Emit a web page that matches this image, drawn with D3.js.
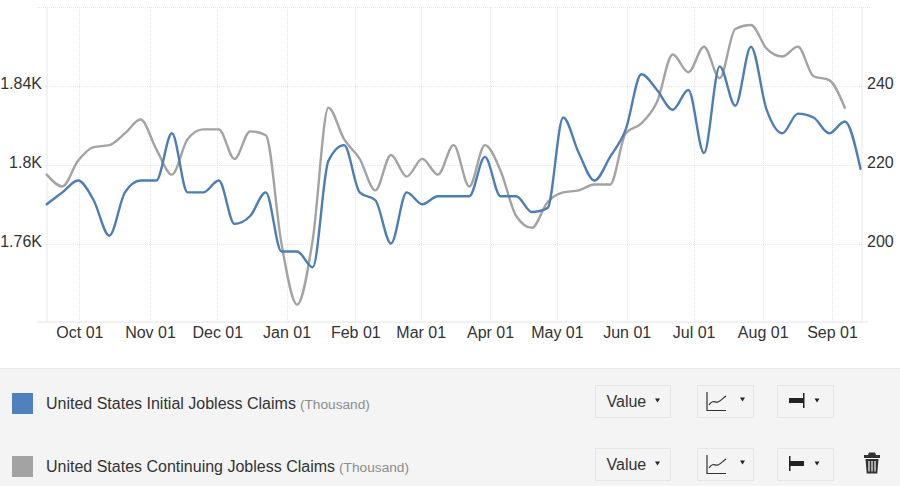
<!DOCTYPE html>
<html>
<head>
<meta charset="utf-8">
<script src="https://cdn.jsdelivr.net/npm/d3@7"></script>
<style>
    html, body { margin: 0; padding: 0; background: #fff; overflow: hidden; }
    svg { display: block; font-family: "Liberation Sans", Arial, sans-serif; }
    .grid line { stroke: #e6e6e6; stroke-width: 1; stroke-dasharray: 1 1; }
    .grid path { display: none; }
    .axis path { display: none; }
    .axis line { display: none; }
    .axis text { font-size: 16px; fill: #333; font-family: "Liberation Sans", Arial, sans-serif; }
    .series { fill: none; stroke-width: 2.4; stroke-linejoin: round; stroke-linecap: round; }
</style>
</head>
<body>
<svg id="chart" width="900" height="486"></svg>
<script>
// weekly readings, oldest first
var initialClaims = [210, 213, 216, 211, 202, 213, 216, 216, 228, 213, 213, 216, 205, 207, 213, 198, 198,
    194, 221, 225, 213, 211, 200, 213, 210, 212, 212, 212, 222, 212, 212, 208, 209, 232, 223, 216,
    222, 229, 243, 239, 234, 239, 223, 245, 235, 250, 234, 228, 233, 232, 228, 231, 219];

var continuingClaims = [1795, 1789, 1802, 1809, 1810, 1816, 1823, 1808, 1795, 1813, 1818, 1818, 1803, 1817, 1815, 1760, 1729,
    1762, 1829, 1813, 1803, 1787, 1805, 1794, 1803, 1795, 1810, 1789, 1810, 1797, 1774, 1768, 1781, 1786, 1787, 1790,
    1790, 1816, 1821, 1832, 1856, 1847, 1860, 1844, 1869, 1871, 1859, 1855, 1860, 1845, 1843, 1829];

// the axis is ordinal, so month labels sit at fractions of a week
var monthLabels = ["Oct 01", "Nov 01", "Dec 01", "Jan 01", "Feb 01", "Mar 01", "Apr 01", "May 01", "Jun 01", "Jul 01", "Aug 01", "Sep 01"];
var monthWeeks = [2.09, 6.6, 10.9, 15.33, 19.72, 23.9, 28.33, 32.6, 37.06, 41.34, 45.75, 50.18];

var leftTicks = [1760, 1800, 1840];
var rightTicks = [200, 220, 240];
var allLeftLines = [1720, 1760, 1800, 1840, 1880];

var legendNames = ["United States Initial Jobless Claims", "United States Continuing Jobless Claims"];
var legendUnit = "(Thousand)";
var legendColors = ["#4f81bd", "#a3a3a3"];

var svg = d3.select("#chart");

var x = d3.scaleLinear().domain([0, 52]).range([46.7, 860.5]);
var yLeft = d3.scaleLinear().domain([1720, 1880]).range([322.3, 7.3]);
var yRight = d3.scaleLinear().domain([180, 260]).range([322.3, 7.3]);

// gridlines
svg.append("g")
    .attr("class", "grid")
    .selectAll("line")
    .data(allLeftLines.slice(1))
    .enter()
    .append("line")
    .attr("x1", 37)
    .attr("x2", 871)
    .attr("y1", function(d) { return Math.round(yLeft(d)) + 0.5; })
    .attr("y2", function(d) { return Math.round(yLeft(d)) + 0.5; });

svg.append("g")
    .attr("class", "grid")
    .selectAll("line")
    .data(monthWeeks)
    .enter()
    .append("line")
    .attr("x1", function(d) { return Math.round(x(d)) + 0.5; })
    .attr("x2", function(d) { return Math.round(x(d)) + 0.5; })
    .attr("y1", 7)
    .attr("y2", 322);

// plot frame
svg.append("line")
    .attr("x1", 47).attr("x2", 47).attr("y1", 7).attr("y2", 322)
    .attr("stroke", "#e8e8e8");
svg.append("line")
    .attr("x1", 862).attr("x2", 862).attr("y1", 7).attr("y2", 322)
    .attr("stroke", "#e8e8e8");
svg.append("line")
    .attr("x1", 37).attr("x2", 868).attr("y1", 322).attr("y2", 322)
    .attr("stroke", "#e4e4e4");

var xAxis = d3.axisBottom(x)
    .tickValues(monthWeeks)
    .tickFormat(function(d, i) { return monthLabels[i]; });

svg.append("g")
    .attr("class", "axis")
    .attr("transform", "translate(0,322)")
    .call(xAxis)
    .selectAll("text")
    .attr("y", 5)
    .attr("dy", "0.71em");

var leftAxis = d3.axisLeft(yLeft)
    .tickValues(leftTicks)
    .tickFormat(function(d) { return d / 1000 + "K"; });

svg.append("g")
    .attr("class", "axis")
    .attr("transform", "translate(47,0)")
    .call(leftAxis)
    .selectAll("text")
    .attr("x", -5)
    .attr("dy", "0.16em");

var rightAxis = d3.axisRight(yRight)
    .tickValues(rightTicks);

svg.append("g")
    .attr("class", "axis")
    .attr("transform", "translate(862,0)")
    .call(rightAxis)
    .selectAll("text")
    .attr("x", 5)
    .attr("dy", "0.16em");

// the two series
var continuingLine = d3.line()
    .x(function(d, i) { return x(i); })
    .y(function(d) { return yLeft(d); })
    .curve(d3.curveMonotoneX);

var initialLine = d3.line()
    .x(function(d, i) { return x(i); })
    .y(function(d) { return yRight(d); })
    .curve(d3.curveMonotoneX);

svg.append("path")
    .datum(continuingClaims)
    .attr("class", "series")
    .attr("stroke", legendColors[1])
    .attr("d", continuingLine);

svg.append("path")
    .datum(initialClaims)
    .attr("class", "series")
    .attr("stroke", "#4c7eb5")
    .attr("d", initialLine);

// legend panel
svg.append("rect")
    .attr("x", 0).attr("y", 369).attr("width", 900).attr("height", 117)
    .attr("fill", "#f4f4f4");
svg.append("line")
    .attr("x1", 0).attr("x2", 900).attr("y1", 368.5).attr("y2", 368.5)
    .attr("stroke", "#e9e9e9");

var rowTops = [385, 448];

var rows = svg.selectAll(".legend-row")
    .data(legendNames)
    .enter()
    .append("g")
    .attr("class", "legend-row")
    .attr("transform", function(d, i) { return "translate(0," + rowTops[i] + ")"; });

rows.append("rect")
    .attr("x", 12).attr("y", 8)
    .attr("width", 21).attr("height", 21)
    .attr("fill", function(d, i) { return legendColors[i]; });

var labels = rows.append("text")
    .attr("x", 46)
    .attr("y", 24)
    .attr("font-size", "16px")
    .attr("fill", "#333");

labels.append("tspan")
    .text(function(d) { return d; });

labels.append("tspan")
    .attr("dx", 4)
    .attr("font-size", "13.7px")
    .attr("fill", "#8c8c8c")
    .text(legendUnit);

// dropdown buttons
function button(row, left, width)
{
    row.append("rect")
        .attr("x", left + 0.5).attr("y", 0.5)
        .attr("width", width).attr("height", 32)
        .attr("fill", "#f4f4f4")
        .attr("stroke", "#e6e6e6");
}

function caret(row, cx, cy)
{
    row.append("path")
        .attr("d", "M" + (cx - 2.5) + "," + (cy - 2) + "h5l-2.5,4z")
        .attr("fill", "#222");
}

rows.each(function(d, i) {
    var row = d3.select(this);

    button(row, 595, 75);
    row.append("text")
        .attr("x", 606.5).attr("y", 21.5)
        .attr("font-size", "16px")
        .attr("fill", "#333")
        .text("Value");
    caret(row, 657.5, 15.5);

    button(row, 697, 56);
    row.append("path")
        .attr("d", "M707,7V25.5H726")
        .attr("fill", "none").attr("stroke", "#333").attr("stroke-width", 1.2);
    row.append("path")
        .attr("d", "M709,20C713,14 715,18 718,17C721,16 723,13 726,11")
        .attr("fill", "none").attr("stroke", "#333").attr("stroke-width", 1.2);
    caret(row, 742.5, 14.5);

    button(row, 777, 56);
    if (i == 0)
    {
        row.append("rect").attr("x", 789).attr("y", 13).attr("width", 14).attr("height", 5).attr("fill", "#222");
        row.append("rect").attr("x", 803).attr("y", 8).attr("width", 1.5).attr("height", 15).attr("fill", "#222");
    }
    else
    {
        row.append("rect").attr("x", 789).attr("y", 8).attr("width", 1.5).attr("height", 15).attr("fill", "#222");
        row.append("rect").attr("x", 790).attr("y", 13).attr("width", 14).attr("height", 5).attr("fill", "#222");
    }
    caret(row, 817, 15.5);
});

// trash icon on the second row
var trash = svg.append("g").attr("transform", "translate(864,452)");
trash.append("path")
    .attr("d", "M0,3H16V6H0ZM4,3L5,0.5H11L12,3Z")
    .attr("fill", "#333");
trash.append("path")
    .attr("d", "M1.5,7H14.5L13.3,21.5H2.7Z")
    .attr("fill", "#333");
trash.selectAll(".slot")
    .data([5, 8, 11])
    .enter()
    .append("rect")
    .attr("class", "slot")
    .attr("x", function(d) { return d - 0.6; })
    .attr("y", 9)
    .attr("width", 1.2)
    .attr("height", 10.5)
    .attr("fill", "#f4f4f4");
</script>
</body>
</html>
